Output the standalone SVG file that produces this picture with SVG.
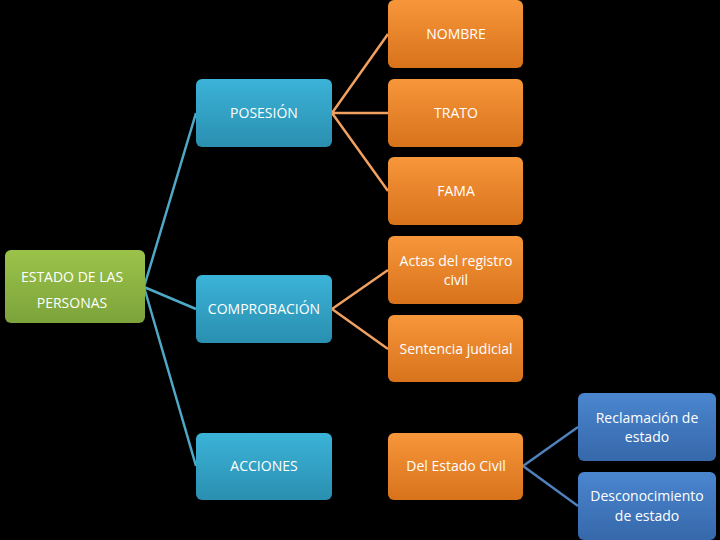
<svg xmlns="http://www.w3.org/2000/svg" width="720" height="540" viewBox="0 0 720 540">
<defs>
<linearGradient id="gc" x1="0" y1="0" x2="0" y2="1"><stop offset="0" stop-color="#3bb3d8"/><stop offset="1" stop-color="#2a8fb0"/></linearGradient>
<linearGradient id="go" x1="0" y1="0" x2="0" y2="1"><stop offset="0" stop-color="#f7963a"/><stop offset="1" stop-color="#d8731c"/></linearGradient>
<linearGradient id="gg" x1="0" y1="0" x2="0" y2="1"><stop offset="0" stop-color="#9bc34a"/><stop offset="1" stop-color="#7ca33a"/></linearGradient>
<linearGradient id="gb" x1="0" y1="0" x2="0" y2="1"><stop offset="0" stop-color="#4a86cf"/><stop offset="1" stop-color="#3668aa"/></linearGradient>
<style>
text{font-family:"Open Sans","Liberation Sans",sans-serif;font-size:14px;fill:#fff;text-anchor:middle}
.c{fill:url(#gc)}.o{fill:url(#go)}.g{fill:url(#gg)}.b{fill:url(#gb)}
.lc{stroke:#4fa9c6;stroke-width:2.5;fill:none}.lo{stroke:#f0a060;stroke-width:2.5;fill:none}.lb{stroke:#4f81bd;stroke-width:2.5;fill:none}
</style>
</defs>
<rect width="720" height="540" fill="#000"/>
<g id="connectors">
<path class="lc" d="M144 287L196 113M144 287L196 309M144 287L196 466"/>
<path class="lo" d="M332 113L388 34M332 113L388 113M332 113L388 191M332 309L388 270M332 309L388 349"/>
<path class="lb" d="M523 466L578 427M523 466L578 506"/>
</g>
<g id="estado"><rect class="g" x="5" y="250" width="140" height="73" rx="6"/><text x="72" y="282">ESTADO DE LAS</text><text x="72" y="308">PERSONAS</text></g>
<g id="posesion"><rect class="c" x="196" y="79" width="136" height="68" rx="6"/><text x="264" y="118">POSESIÓN</text></g>
<g id="comprobacion"><rect class="c" x="196" y="275" width="136" height="68" rx="6"/><text x="264" y="314">COMPROBACIÓN</text></g>
<g id="acciones"><rect class="c" x="196" y="433" width="136" height="67" rx="6"/><text x="264" y="471">ACCIONES</text></g>
<g id="nombre"><rect class="o" x="388" y="0" width="135" height="68" rx="6"/><text x="456" y="39">NOMBRE</text></g>
<g id="trato"><rect class="o" x="388" y="79" width="135" height="68" rx="6"/><text x="456" y="118">TRATO</text></g>
<g id="fama"><rect class="o" x="388" y="157" width="135" height="68" rx="6"/><text x="456" y="196">FAMA</text></g>
<g id="actas"><rect class="o" x="388" y="236" width="135" height="68" rx="6"/><text x="456" y="266">Actas del registro</text><text x="456" y="285">civil</text></g>
<g id="sentencia"><rect class="o" x="388" y="315" width="135" height="67" rx="6"/><text x="456" y="354">Sentencia judicial</text></g>
<g id="delestado"><rect class="o" x="388" y="433" width="135" height="67" rx="6"/><text x="456" y="471">Del Estado Civil</text></g>
<g id="reclamacion"><rect class="b" x="578" y="393" width="138" height="68" rx="6"/><text x="647" y="423">Reclamación de</text><text x="647" y="442">estado</text></g>
<g id="desconocimiento"><rect class="b" x="578" y="472" width="138" height="68" rx="6"/><text x="647" y="501">Desconocimiento</text><text x="647" y="521">de estado</text></g>
</svg>
